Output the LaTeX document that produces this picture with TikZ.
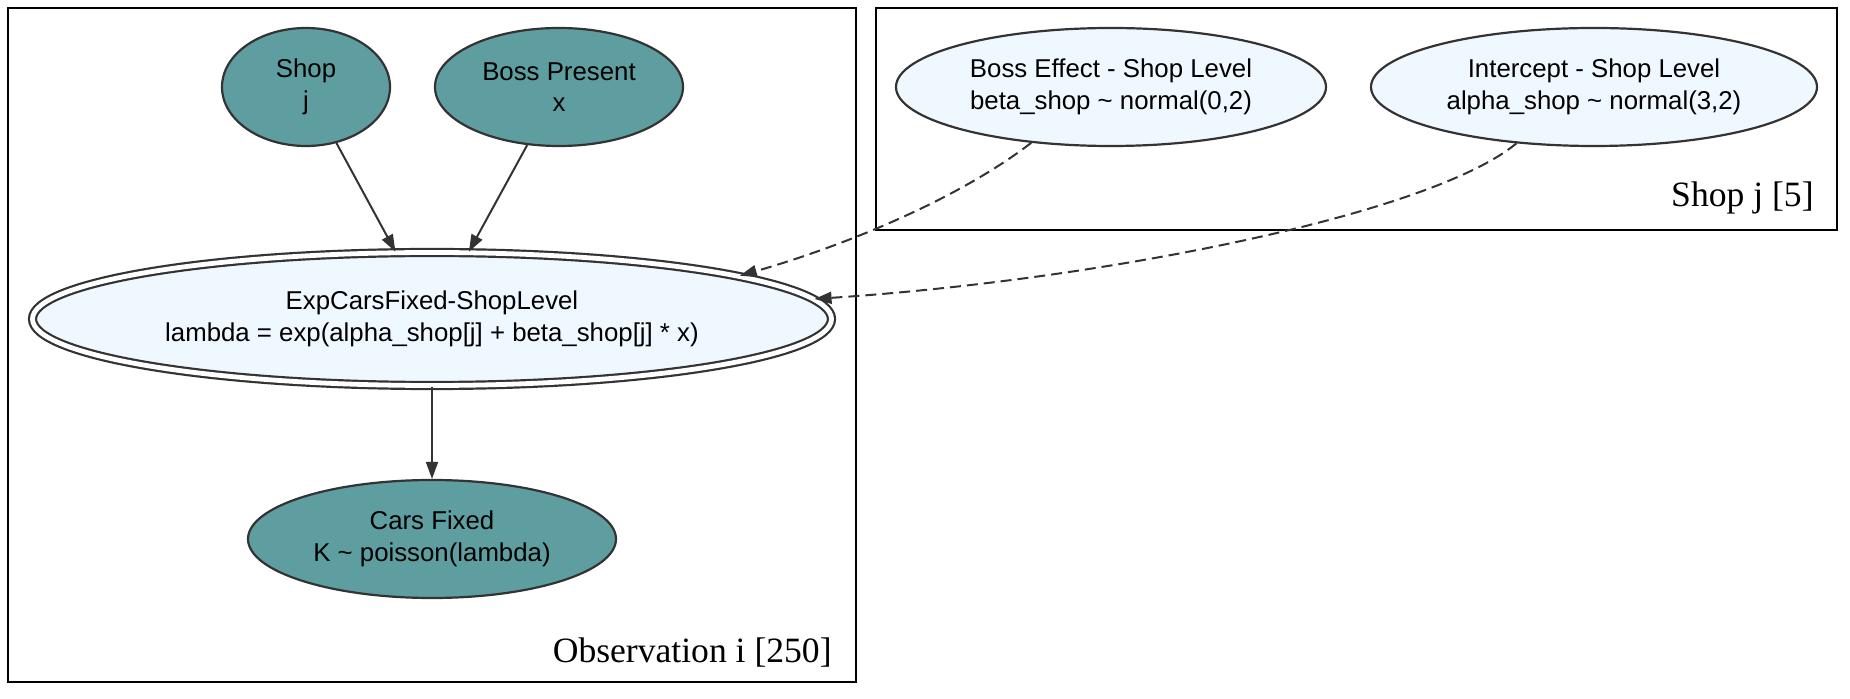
\documentclass[tikz,border=0pt]{standalone}
\usepackage{fontspec}
\setmainfont{Liberation Sans}
\newfontfamily\serifx{Liberation Serif}
\usetikzlibrary{shapes.geometric,arrows.meta}
\definecolor{tealfill}{HTML}{5F9EA0}
\definecolor{alice}{HTML}{F0F8FF}
\definecolor{edgecol}{HTML}{333333}
\begin{document}
\begin{tikzpicture}[x=0.5pt,y=-0.5pt,
  nd/.style={ellipse,draw=edgecol,line width=1.1pt,inner sep=0pt,align=center,font=\fontsize{12.9}{15.75}\selectfont},
  obs/.style={nd,fill=tealfill},
  lat/.style={nd,fill=alice},
  plate/.style={draw=black,line width=1.3pt},
  platelabel/.style={anchor=base east,font=\serifx\fontsize{17.8}{20}\selectfont,inner sep=0pt},
  arr/.style={draw=edgecol,line width=1pt,-{Triangle[length=8.5pt,width=6pt]}},
  darr/.style={arr,dash pattern=on 5.5pt off 3pt}]
\useasboundingbox (0,0) rectangle (1850,699);
\draw[plate] (8,8) rectangle (856,682);
\draw[plate] (876,8) rectangle (1837,230);
\node[platelabel] (obslabel) at (832,662) {Observation i [250]};
\node[platelabel] (shoplabel) at (1814,207) {Shop j [5]};
\node[obs,minimum width=84pt,minimum height=59pt] (shop) at (306,87) {Shop\\j};
\node[obs,minimum width=124pt,minimum height=59pt] (boss) at (559,87) {Boss Present\\x};
\node[lat,double=white,double distance=2.4pt,minimum width=399.5pt,minimum height=66.5pt] (exp) at (432,319) {ExpCarsFixed-ShopLevel\\lambda = exp(alpha\_shop[j] + beta\_shop[j] * x)};
\node[obs,minimum width=184pt,minimum height=59pt] (cars) at (432,539) {Cars Fixed\\K \textasciitilde{} poisson(lambda)};
\node[lat,minimum width=215pt,minimum height=59pt] (beff) at (1111,87) {Boss Effect - Shop Level\\beta\_shop \textasciitilde{} normal(0,2)};
\node[lat,minimum width=223pt,minimum height=59pt] (icpt) at (1594,87) {Intercept - Shop Level\\alpha\_shop \textasciitilde{} normal(3,2)};
\draw[arr] (shop) -- (exp);
\draw[arr] (boss) -- (exp);
\draw[arr] (exp) -- (cars);
\draw[darr] (beff.215) .. controls (950,205) and (830,250) .. (exp.8.7);
\draw[darr] (icpt.216) .. controls (1430,215) and (1100,280) .. (exp.3.1);
\end{tikzpicture}
\end{document}
